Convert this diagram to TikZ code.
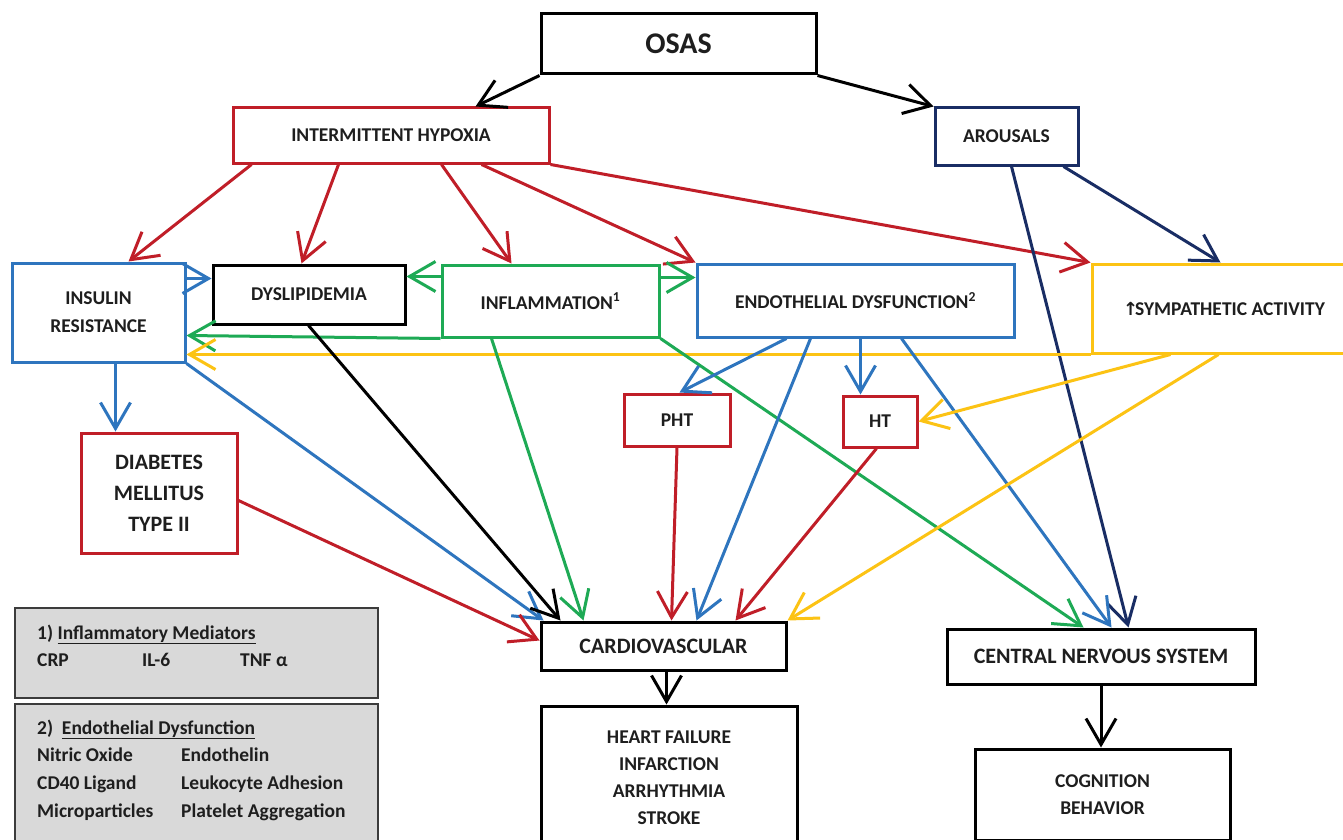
\documentclass[tikz,border=0pt]{standalone}
\usepackage{fontspec}
\setmainfont{Carlito}
\newfontfamily\dejavu{DejaVu Sans}
\usetikzlibrary{arrows.meta,calc}
\definecolor{cred}{RGB}{192,30,40}
\definecolor{cblue}{RGB}{46,117,190}
\definecolor{cnavy}{RGB}{25,45,100}
\definecolor{cgreen}{RGB}{30,170,85}
\definecolor{cyellow}{RGB}{252,195,20}
\definecolor{cgrayfill}{RGB}{217,217,217}
\definecolor{cgrayline}{RGB}{60,60,60}
\definecolor{ctext}{RGB}{30,30,30}
\begin{document}
\begin{tikzpicture}[x=1pt,y=-1pt,
  box/.style={draw, fill=white, rectangle, inner sep=0pt, align=center, line width=3pt, text=ctext,
    font=\bfseries\fontsize{19.5}{28}\selectfont},
  bigtxt/.style={font=\bfseries\fontsize{22}{31}\selectfont},
  legbox/.style={draw=cgrayline, fill=cgrayfill, rectangle, line width=2.5pt, inner sep=0pt},
  legtxt/.style={anchor=base west, inner sep=0pt, text=ctext, font=\bfseries\fontsize{19.5}{24}\selectfont},
  conn/.style={line width=3pt, -{Straight Barb[length=26pt,width=30pt]}},
]
\useasboundingbox (0,0) rectangle (1343,840);
\clip (0,0) rectangle (1343,840);
\fill[white] (0,0) rectangle (1343,840);

% boxes
\node[box, draw=black, minimum width=275pt, minimum height=60pt,
  font=\bfseries\fontsize{30}{34}\selectfont] (osas) at (678.5,44) {OSAS};
\node[box, draw=cred, minimum width=316pt, minimum height=55pt] (hyp) at (391,135.5) {INTERMITTENT HYPOXIA};
\node[box, draw=cnavy, minimum width=143pt, minimum height=57pt] (aro) at (1006.5,136.5) {AROUSALS};
\node[box, draw=cblue, minimum width=173pt, minimum height=99pt] (ins) at (98.5,312.5) {INSULIN\\RESISTANCE};
\node[box, draw=black, minimum width=192pt, minimum height=59pt] (dys) at (309,294.5) {DYSLIPIDEMIA};
\node[box, draw=cgreen, minimum width=217pt, minimum height=72pt] (inf) at (550.5,301) {INFLAMMATION\textsuperscript{1}};
\node[box, draw=cblue, minimum width=317pt, minimum height=73pt] (end) at (855.5,300.5) {ENDOTHELIAL DYSFUNCTION\textsuperscript{2}};
\node[box, draw=cyellow, minimum width=264pt, minimum height=89pt] (sym) at (1224,308.5)
  {{\dejavu\bfseries\fontsize{18}{28}\selectfont ↑}\kern-3pt SYMPATHETIC ACTIVITY};
\node[box, draw=cred, minimum width=106pt, minimum height=52pt] (pht) at (677,420) {PHT};
\node[box, draw=cred, minimum width=74pt, minimum height=51pt] (ht) at (880,421.5) {HT};
\node[box, bigtxt, draw=cred, minimum width=156pt, minimum height=120pt] (dia) at (159,493) {DIABETES\\MELLITUS\\TYPE II};
\node[box, bigtxt, draw=black, minimum width=245pt, minimum height=48pt] (cv) at (663.5,646) {CARDIOVASCULAR};
\node[box, draw=black, minimum width=256pt, minimum height=144pt, font=\bfseries\fontsize{19.5}{27}\selectfont]
  (hf) at (669,778) {HEART FAILURE\\INFARCTION\\ARRHYTHMIA\\STROKE};
\node[box, bigtxt, draw=black, minimum width=308pt, minimum height=55pt] (cns) at (1101,656.5) {CENTRAL NERVOUS SYSTEM};
\node[box, draw=black, minimum width=255pt, minimum height=91pt, font=\bfseries\fontsize{19.5}{27}\selectfont]
  (cog) at (1102.5,794.5) {COGNITION\\BEHAVIOR};

% legends
\node[legbox, minimum width=363pt, minimum height=90pt] (leg1) at (196.5,653) {};
\node[legbox, minimum width=363pt, minimum height=156pt] (leg2) at (196.5,782) {};
\node[legtxt] (l1t) at (37,639) {1) \underline{Inflammatory Mediators}};
\node[legtxt] (l1a) at (37,666) {CRP};
\node[legtxt] (l1b) at (142,666) {IL-6};
\node[legtxt] (l1c) at (240,666) {TNF α};
\node[legtxt] (l2t) at (37,734) {2)\ \ \underline{Endothelial Dysfunction}};
\node[legtxt] (l2a) at (37,761) {Nitric Oxide};
\node[legtxt] (l2b) at (181,761) {Endothelin};
\node[legtxt] (l2c) at (37,789) {CD40 Ligand};
\node[legtxt] (l2d) at (181,789) {Leukocyte Adhesion};
\node[legtxt] (l2e) at (37,817) {Microparticles};
\node[legtxt] (l2f) at (181,817) {Platelet Aggregation};

% connectors
\draw[conn, black] (osas.south west) -- ($(hyp.north west)+(244,0)$);
\draw[conn, black] (osas.south east) -- (aro.north west);

\draw[conn, cred] ($(hyp.south west)+(20,0)$) -- ($(ins.north west)+(118,0)$);
\draw[conn, cred] ($(hyp.south west)+(107,0)$) -- ($(dys.north west)+(90,0)$);
\draw[conn, cred] ($(hyp.south west)+(210,0)$) -- ($(inf.north west)+(71,0)$);
\draw[conn, cred] ($(hyp.south west)+(250,0)$) -- (end.north west);
\draw[conn, cred] (hyp.south east) -- (sym.north west);

\draw[conn, cnavy] ($(aro.south west)+(78,0)$) -- ($(cns.north west)+(183,0)$);
\draw[conn, cnavy] ($(aro.south west)+(130,0)$) -- ($(sym.north west)+(130,0)$);

\draw[conn, cgreen] ($(inf.north west)+(0,13)$) -- ($(dys.north east)+(0,13)$);
\draw[conn, cgreen] ($(inf.north east)+(0,14)$) -- ($(end.north west)+(0,15)$);
\draw[conn, cgreen] (inf.south west) -- ($(ins.north east)+(0,74)$);
\draw[conn, cyellow] (sym.south west) -- ($(ins.south east)+(0,-9)$);

\draw[conn, cblue] ($(ins.north east)+(0,17)$) -- ($(dys.north west)+(0,15)$);
\draw[conn, cblue] ($(ins.south west)+(105,0)$) -- ($(dia.north west)+(36,0)$);
\draw[conn, cblue] (ins.south east) -- ($(cv.north west)+(4,0)$);

\draw[conn, cred] ($(dia.north east)+(0,69)$) -- ($(cv.north west)+(0,20)$);
\draw[conn, black] ($(dys.south west)+(97,0)$) -- ($(cv.north west)+(21,0)$);
\draw[conn, cgreen] ($(inf.south west)+(51,0)$) -- ($(cv.north west)+(44,0)$);
\draw[conn, cgreen] (inf.south east) -- ($(cns.north west)+(138,0)$);

\draw[conn, cblue] ($(end.south west)+(91,0)$) -- ($(pht.north west)+(57,0)$);
\draw[conn, cblue] ($(end.south west)+(115,0)$) -- ($(cv.north west)+(157,0)$);
\draw[conn, cblue] ($(end.south west)+(165,0)$) -- ($(ht.north west)+(19,0)$);
\draw[conn, cblue] ($(end.south west)+(206,0)$) -- ($(cns.north west)+(166,0)$);

\draw[conn, cred] (pht.south) -- ($(cv.north west)+(132,0)$);
\draw[conn, cred] ($(ht.south west)+(35,0)$) -- ($(cv.north west)+(196,0)$);
\draw[conn, cyellow] ($(sym.south west)+(80,0)$) -- (ht.east);
\draw[conn, cyellow] ($(sym.south west)+(128,0)$) -- (cv.north east);

\draw[conn, black] ($(cv.south west)+(127,0)$) -- ($(hf.north west)+(127,0)$);
\draw[conn, black] (cns.south) -- (cns.south |- cog.north);
\end{tikzpicture}
\end{document}
